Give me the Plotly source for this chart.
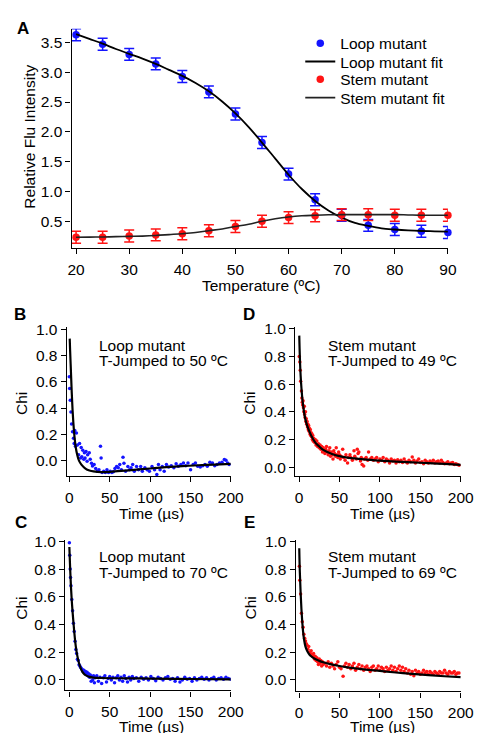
import plotly.graph_objects as go

W, H = 486, 733
FONT = "Arial, Liberation Sans, sans-serif"
BLUE = "#1414ff"
RED = "#ff1414"

# ---------------- Panel A data ----------------
temperature = [20, 25, 30, 35, 40, 45, 50, 55, 60, 65, 70, 75, 80, 85, 90]
loop_intensity = [3.63, 3.47, 3.30, 3.14, 2.93, 2.67, 2.30, 1.82, 1.29, 0.86, 0.60, 0.43, 0.36, 0.33, 0.31]
stem_intensity = [0.23, 0.23, 0.25, 0.27, 0.29, 0.34, 0.41, 0.50, 0.56, 0.59, 0.61, 0.61, 0.60, 0.60, 0.60]
loop_error = [0.10] * 15
stem_error = [0.10] * 15

fit_temperature = [20, 22.5, 25, 27.5, 30, 32.5, 35, 37.5, 40, 42.5, 45, 47.5, 50, 52.5, 55, 57.5,
                   60, 62.5, 65, 67.5, 70, 72.5, 75, 77.5, 80, 82.5, 85, 87.5, 90]
loop_fit = [3.64, 3.56, 3.48, 3.39, 3.31, 3.23, 3.14, 3.04, 2.94, 2.82, 2.68, 2.51, 2.31, 2.08, 1.82, 1.55,
            1.28, 1.04, 0.84, 0.68, 0.56, 0.47, 0.42, 0.38, 0.36, 0.345, 0.335, 0.33, 0.325]
stem_fit = [0.23, 0.232, 0.235, 0.24, 0.245, 0.25, 0.26, 0.275, 0.29, 0.31, 0.34, 0.37, 0.41, 0.45, 0.50, 0.54,
            0.57, 0.59, 0.60, 0.607, 0.61, 0.61, 0.61, 0.61, 0.61, 0.605, 0.60, 0.60, 0.60]

# ---------------- Panel B: loop mutant, T-jump to 50 C ----------------
loop50_points = [
    (0, 0.64), (0.4, 0.55), (1.2, 0.46), (2, 0.37), (2.8, 0.28), (4, 0.22), (5.2, 0.17), (6, 0.13),
    (6.8, 0.23), (7.6, 0.11), (8.8, 0.21), (10, 0.12), (11.5, 0.045), (12.7, 0.13), (14, 0.02),
    (14.7, 0.10), (15.5, 0.03), (16.7, 0.08), (18, 0.01), (18.7, 0.06), (19.5, 0.02), (20.7, 0.07),
    (22, -0.005), (22.7, 0.045), (24.7, 0.06), (25.9, 0.01), (27.5, -0.02), (28.7, -0.04), (30.7, -0.03),
    (32.7, -0.06), (34.7, -0.08), (36.7, -0.07), (38.6, 0.11), (39.4, 0.02), (40.6, -0.09), (42.6, -0.08),
    (44.6, -0.09), (46.6, -0.07), (48.6, -0.09), (50.6, -0.08), (52.6, -0.09), (54.6, -0.085),
    (56.5, -0.06), (58.6, -0.045), (60.6, -0.055), (62.5, -0.03), (64.5, -0.07), (66.5, 0.025),
    (67.7, -0.02), (69.7, -0.08), (72.5, -0.045), (74.5, -0.07), (76.5, -0.055), (78.5, -0.03),
    (80.5, -0.08), (83.3, -0.045), (85.7, -0.07), (88.4, -0.045), (90.4, -0.08), (93.6, -0.055),
    (96.4, -0.07), (99.2, -0.08), (102.4, -0.045), (105.6, -0.07), (108.4, -0.105), (110.4, -0.03),
    (112.4, -0.07), (115.1, -0.045), (117.5, -0.08), (120.3, -0.03), (123.1, -0.048), (126.3, -0.038),
    (129.5, -0.055), (132.3, -0.023), (135, -0.043), (138.2, -0.03), (141.4, -0.018), (144.2, -0.038),
    (147, -0.018), (150.2, -0.07), (153.4, -0.03), (156.2, -0.018), (159, -0.043), (162.2, -0.048),
    (165.3, -0.038), (168.1, -0.03), (170.9, -0.043), (174.1, -0.013), (177.3, -0.018), (180.1, -0.038),
    (182.9, -0.03), (186, -0.018), (189.2, -0.013), (192, 0.008), (194, 0.003), (196, -0.018), (198, -0.03),
]
loop50_fit_t = [0.5, 1, 2, 3, 4, 5, 6, 8, 10, 12, 15, 20, 25, 30, 40, 50, 60, 80, 100, 120, 140, 160, 180, 200]
loop50_fit = [0.93, 0.84, 0.68, 0.52, 0.39, 0.29, 0.21, 0.10, 0.04, 0.00, -0.03, -0.06, -0.075, -0.082,
              -0.087, -0.085, -0.080, -0.070, -0.060, -0.050, -0.042, -0.035, -0.030, -0.025]

# ---------------- Panel C: loop mutant, T-jump to 70 C ----------------
loop70_points = [
    (0, 0.99), (0.5, 0.90), (1, 0.80), (1.5, 0.74), (2, 0.68), (3, 0.58), (4, 0.50), (5, 0.41), (6, 0.35),
    (7, 0.28), (8, 0.22), (9, 0.19), (10, 0.15), (11, 0.14), (12, 0.11), (13, 0.10), (14, 0.09), (15, 0.08),
    (16, 0.075), (17, 0.06), (18, 0.07), (19, 0.05), (20, 0.06), (21, 0.04), (22, 0.055), (23, 0.03),
    (24, 0.045), (25, 0.02), (26, 0.035), (27, -0.01), (28, 0.025), (29, 0.0), (30, 0.03), (31, -0.02),
    (32, 0.015), (34, 0.03), (36, -0.01), (38, 0.02), (40, -0.025), (42, 0.015), (44, 0.03), (46, -0.015),
    (48, 0.01), (50, 0.025), (52, 0.0), (54, 0.02), (56, -0.02), (58, 0.015), (60, 0.03), (62, 0.0),
    (64, 0.02), (66, -0.01), (68, 0.03), (70, 0.01), (72, -0.015), (74, 0.02), (76, 0.0), (78, 0.025),
    (80, 0.01), (83, 0.015), (86, -0.01), (89, 0.02), (92, 0.005), (95, 0.015), (98, 0.0), (101, 0.025),
    (104, 0.01), (107, -0.005), (110, 0.02), (113, 0.01), (116, 0.0), (119, 0.015), (122, 0.025),
    (125, 0.005), (128, 0.01), (131, -0.01), (134, 0.015), (137, -0.015), (140, 0.0), (143, 0.02),
    (146, 0.005), (149, 0.01), (152, -0.01), (155, 0.015), (158, 0.0), (161, 0.01), (164, 0.02),
    (167, 0.005), (170, 0.015), (173, 0.0), (176, 0.01), (179, 0.02), (182, 0.0), (185, 0.01),
    (188, 0.015), (191, 0.005), (194, 0.02), (197, 0.01), (200, 0.005),
]
loop70_fit_t = [0, 1, 2, 3, 4, 5, 6, 7, 8, 10, 12, 14, 16, 18, 20, 25, 30, 40, 60, 80, 100, 150, 200]
loop70_fit = [0.96, 0.80, 0.67, 0.57, 0.49, 0.42, 0.35, 0.29, 0.24, 0.17, 0.12, 0.085, 0.06, 0.045,
              0.035, 0.022, 0.017, 0.014, 0.012, 0.011, 0.010, 0.007, 0.004]

# ---------------- Panel D: stem mutant, T-jump to 49 C ----------------
stem49_points = [
    (0.3, 0.80), (1, 0.76), (1.5, 0.70), (2, 0.62), (3, 0.55), (3.5, 0.50), (4, 0.47), (4.5, 0.45),
    (5, 0.48), (5.5, 0.43), (6, 0.40), (6.5, 0.44), (7, 0.38), (7.5, 0.36), (8, 0.40), (8.5, 0.33),
    (9, 0.35), (9.5, 0.31), (10, 0.33), (10.5, 0.29), (11, 0.31), (11.5, 0.27), (12, 0.30), (12.5, 0.26),
    (13, 0.28), (13.5, 0.24), (14, 0.27), (14.5, 0.23), (15, 0.25), (15.5, 0.22), (16, 0.24), (16.5, 0.20),
    (17, 0.23), (17.5, 0.19), (18, 0.21), (19, 0.18), (20, 0.20), (21, 0.16), (22, 0.19), (23, 0.15),
    (24, 0.17), (25, 0.14), (26, 0.16), (27, 0.13), (28, 0.15), (29, 0.11), (30, 0.14), (31, 0.12),
    (32, 0.10), (33, 0.13), (34, 0.15), (35, 0.11), (36, 0.09), (37, 0.12), (38, 0.14), (39, 0.08),
    (40, 0.11), (41, 0.09), (42, 0.06), (43, 0.12), (44, 0.10), (45, 0.08), (46, 0.14), (47, 0.09),
    (48, 0.07), (49, 0.11), (50, 0.09), (51, 0.06), (52, 0.08), (54, 0.13), (55, 0.07), (57, 0.05),
    (58, 0.09), (60, 0.03), (61, 0.07), (63, 0.09), (64, 0.07), (66, 0.05), (68, 0.12), (69, 0.08),
    (71, 0.06), (72, 0.13), (73, 0.10), (74, 0.11), (76, 0.045), (77, 0.07), (78, 0.02), (80, 0.01),
    (81, 0.06), (83, 0.07), (85, 0.05), (86, 0.11), (88, 0.06), (90, 0.07), (92, 0.05), (94, 0.06),
    (96, 0.07), (98, 0.04), (100, 0.06), (102, 0.05), (104, 0.07), (106, 0.04), (108, 0.06), (110, 0.05),
    (112, 0.03), (114, 0.06), (116, 0.045), (118, 0.05), (120, 0.03), (122, 0.055), (124, 0.04),
    (126, 0.05), (128, 0.035), (130, 0.06), (132, 0.04), (134, 0.03), (136, 0.05), (138, 0.04),
    (140, 0.075), (142, 0.05), (144, 0.03), (146, 0.045), (148, 0.06), (150, 0.035), (152, 0.04),
    (154, 0.025), (156, 0.05), (158, 0.04), (160, 0.03), (162, 0.045), (164, 0.035), (166, 0.05),
    (168, 0.03), (170, 0.04), (172, 0.045), (174, 0.03), (176, 0.05), (178, 0.035), (180, 0.025),
    (182, 0.03), (184, 0.04), (186, 0.025), (188, 0.03), (190, 0.035), (192, 0.02), (194, 0.025),
    (196, 0.02), (198, 0.015),
]
stem49_fit_t = [0.3, 1, 2, 3, 4, 5, 7, 9, 12, 15, 20, 25, 30, 40, 50, 60, 80, 100, 120, 140, 160, 180, 200]
stem49_fit = [0.95, 0.80, 0.66, 0.57, 0.50, 0.45, 0.37, 0.32, 0.27, 0.23, 0.18, 0.15, 0.125, 0.097,
              0.080, 0.070, 0.057, 0.048, 0.041, 0.035, 0.030, 0.024, 0.017]

# ---------------- Panel E: stem mutant, T-jump to 69 C ----------------
stem69_points = [
    (0.5, 0.82), (1, 0.72), (2, 0.62), (3, 0.48), (4, 0.42), (5, 0.38), (6, 0.33), (7, 0.30), (8, 0.28),
    (9, 0.26), (10, 0.25), (11, 0.22), (12, 0.24), (13, 0.20), (14, 0.19), (15, 0.21), (16, 0.18),
    (17, 0.17), (18, 0.19), (19, 0.15), (20, 0.17), (21, 0.14), (22, 0.16), (23, 0.13), (24, 0.11),
    (25, 0.15), (26, 0.12), (27, 0.14), (28, 0.10), (29, 0.13), (30, 0.11), (32, 0.12), (34, 0.10),
    (36, 0.13), (38, 0.09), (40, 0.12), (42, 0.10), (44, 0.08), (46, 0.11), (48, 0.13), (50, 0.09),
    (52, 0.08), (54.5, 0.026), (56, 0.10), (58, 0.12), (60, 0.09), (62, 0.11), (64, 0.08), (66, 0.10),
    (68, 0.12), (70, 0.07), (72, 0.09), (74, 0.11), (76, 0.08), (78, 0.10), (80, 0.07), (82, 0.09),
    (84, 0.10), (86, 0.08), (88, 0.06), (90, 0.09), (92, 0.10), (94, 0.07), (96, 0.08), (98, 0.10),
    (100, 0.07), (102, 0.09), (104, 0.08), (106, 0.06), (108, 0.09), (110, 0.07), (112, 0.08),
    (114, 0.10), (116, 0.07), (118, 0.09), (120, 0.06), (122, 0.08), (124, 0.10), (126, 0.07),
    (128, 0.09), (130, 0.06), (132, 0.08), (134, 0.05), (136, 0.07), (138, 0.04), (140, 0.06),
    (142, 0.03), (144, 0.07), (146, 0.05), (148, 0.06), (150, 0.04), (152, 0.05), (154, 0.07),
    (156, 0.05), (158, 0.06), (160, 0.04), (162, 0.06), (164, 0.05), (166, 0.04), (168, 0.06),
    (170, 0.05), (172, 0.04), (174, 0.06), (176, 0.05), (178, 0.05), (180, 0.07), (182, 0.05),
    (184, 0.04), (186, 0.06), (188, 0.05), (190, 0.05), (192, 0.06), (194, 0.04), (196, 0.05), (198, 0.05),
]
stem69_fit_t = [0.3, 1, 2, 3, 4, 5, 6, 8, 10, 12, 15, 20, 25, 30, 40, 50, 60, 80, 100, 120, 140, 160, 180, 200]
stem69_fit = [0.95, 0.78, 0.63, 0.51, 0.42, 0.35, 0.30, 0.24, 0.21, 0.19, 0.17, 0.15, 0.137, 0.127,
              0.112, 0.100, 0.090, 0.075, 0.064, 0.053, 0.043, 0.034, 0.026, 0.019]

time_ticks = [0, 50, 100, 150, 200]
chi_ticks = [0.0, 0.2, 0.4, 0.6, 0.8, 1.0]
temp_ticks = [20, 30, 40, 50, 60, 70, 80, 90]
intensity_ticks = [0.5, 1.0, 1.5, 2.0, 2.5, 3.0, 3.5]


def px(x):
    return x / W


def py(y):
    return 1 - y / H


fig = go.Figure()

# Panel A traces (each legend entry in its own legend box so rows can be spaced like the original)
fig.add_trace(go.Scatter(x=temperature, y=loop_intensity, mode="markers", name="Loop mutant",
                         marker=dict(color=BLUE, size=7.5),
                         error_y=dict(type="data", array=loop_error, color=BLUE, thickness=1.5, width=5),
                         cliponaxis=False, xaxis="x", yaxis="y", legend="legend"))
fig.add_trace(go.Scatter(x=fit_temperature, y=loop_fit, mode="lines", name="Loop mutant fit",
                         line=dict(color="black", width=1.8, shape="spline"), xaxis="x", yaxis="y",
                         legend="legend2"))
fig.add_trace(go.Scatter(x=temperature, y=stem_intensity, mode="markers", name="Stem mutant",
                         marker=dict(color=RED, size=7.5),
                         error_y=dict(type="data", array=stem_error, color=RED, thickness=1.5, width=5),
                         cliponaxis=False, xaxis="x", yaxis="y", legend="legend3"))
fig.add_trace(go.Scatter(x=fit_temperature, y=stem_fit, mode="lines", name="Stem mutant fit",
                         line=dict(color="#222222", width=1.6, shape="spline"), xaxis="x", yaxis="y",
                         legend="legend4"))


def add_kinetics(points, fit_t, fit_y, color, axn):
    fig.add_trace(go.Scatter(x=[p[0] for p in points], y=[p[1] for p in points], mode="markers",
                             marker=dict(color=color, size=3.5), showlegend=False,
                             xaxis="x" + axn, yaxis="y" + axn))
    fig.add_trace(go.Scatter(x=fit_t, y=fit_y, mode="lines", line=dict(color="black", width=2.2, shape="spline"),
                             showlegend=False, xaxis="x" + axn, yaxis="y" + axn))


add_kinetics(loop50_points, loop50_fit_t, loop50_fit, BLUE, "2")
add_kinetics(stem49_points, stem49_fit_t, stem49_fit, RED, "3")
add_kinetics(loop70_points, loop70_fit_t, loop70_fit, BLUE, "4")
add_kinetics(stem69_points, stem69_fit_t, stem69_fit, RED, "5")

axis_common = dict(showline=True, linecolor="black", linewidth=1.3, ticks="outside", ticklen=5,
                   tickwidth=1.3, tickcolor="black", showgrid=False, zeroline=False,
                   tickfont=dict(family=FONT, size=15.5, color="black"))

# panel geometry: x pixel span, y pixel span (top, bottom), data ranges
panels = {
    "": dict(x=(70, 460), y=(21, 243), xr=[19.15, 90], yr=[0.044, 3.73], xt=temp_ticks, yt=intensity_ticks),
    "2": dict(x=(65, 235), y=(323, 473.3), xr=[-3.2, 200], yr=[-0.118, 1.015], xt=time_ticks, yt=chi_ticks),
    "3": dict(x=(301.7, 473.3), y=(322.7, 473.3), xr=[-4.8, 200], yr=[-0.064, 1.011], xt=time_ticks, yt=chi_ticks),
    "4": dict(x=(63.3, 235), y=(538.3, 690), xr=[-5.3, 200], yr=[-0.076, 1.007], xt=time_ticks, yt=chi_ticks),
    "5": dict(x=(302.3, 473.3), y=(538, 691), xr=[-4.06, 200], yr=[-0.084, 1.009], xt=time_ticks, yt=chi_ticks),
}
layout_axes = {}
for key, p in panels.items():
    layout_axes["xaxis" + key] = dict(axis_common, domain=[px(p["x"][0]), px(p["x"][1])], range=p["xr"],
                                      tickvals=p["xt"], anchor="y" + key, ticklabelstandoff=2)
    layout_axes["yaxis" + key] = dict(axis_common, domain=[py(p["y"][1]), py(p["y"][0])], range=p["yr"],
                                      tickvals=p["yt"], tickformat=".1f", anchor="x" + key)

fig.update_layout(**layout_axes)

annotations = []


def text(x, y, s, size=16, bold=False, angle=0, xanchor="center"):
    annotations.append(dict(x=px(x), y=py(y), xref="paper", yref="paper", text=("<b>%s</b>" % s) if bold else s,
                            showarrow=False, xanchor=xanchor, yanchor="middle", textangle=angle,
                            font=dict(family=FONT, size=size, color="black")))


# panel letters
text(20, 21, "A", size=17, bold=True)
text(17, 310, "B", size=17, bold=True)
text(254, 310, "D", size=17, bold=True)
text(18, 520, "C", size=17, bold=True)
text(254, 520, "E", size=17, bold=True)

# axis titles
text(267, 281, "Temperature (ºC)", size=15.5)
text(27, 130, "Relative Flu Intensity", size=15.5, angle=-90)
for cx, cy in [(18, 400), (255, 400), (18, 607), (255, 607)]:
    text(cx, cy, "Chi", size=15.5, angle=-90)
for cx, cy in [(153, 511), (392, 511), (153, 726), (392, 726)]:
    text(cx, cy, "Time (µs)", size=15.5)

# panel descriptions
text(96, 341, "Loop mutant", size=15.5, xanchor="left")
text(96, 356, "T-Jumped to 50 ºC", size=15.5, xanchor="left")
text(334, 341, "Stem mutant", size=15.5, xanchor="left")
text(334, 356, "T-Jumped to 49 ºC", size=15.5, xanchor="left")
text(96, 555, "Loop mutant", size=15.5, xanchor="left")
text(96, 571, "T-Jumped to 70 ºC", size=15.5, xanchor="left")
text(334, 555, "Stem mutant", size=15.5, xanchor="left")
text(334, 571, "T-Jumped to 69 ºC", size=15.5, xanchor="left")

legend_rows = {"legend": 36, "legend2": 54.5, "legend3": 72.5, "legend4": 91}
legends = {}
for name, row_y in legend_rows.items():
    legends[name] = dict(x=px(307), y=py(row_y), xanchor="left", yanchor="middle", bgcolor="rgba(0,0,0,0)",
                         font=dict(family=FONT, size=15.5, color="black"), itemwidth=30, borderwidth=0)

fig.update_layout(
    width=W, height=H, margin=dict(l=0, r=0, t=0, b=0),
    paper_bgcolor="white", plot_bgcolor="white",
    font=dict(family=FONT, size=15, color="black"),
    annotations=annotations,
    showlegend=True,
    **legends,
)

fig.write_html("out.html", config={"displayModeBar": False},
               post_script="document.body.style.margin='0';document.body.style.overflow='hidden';")
